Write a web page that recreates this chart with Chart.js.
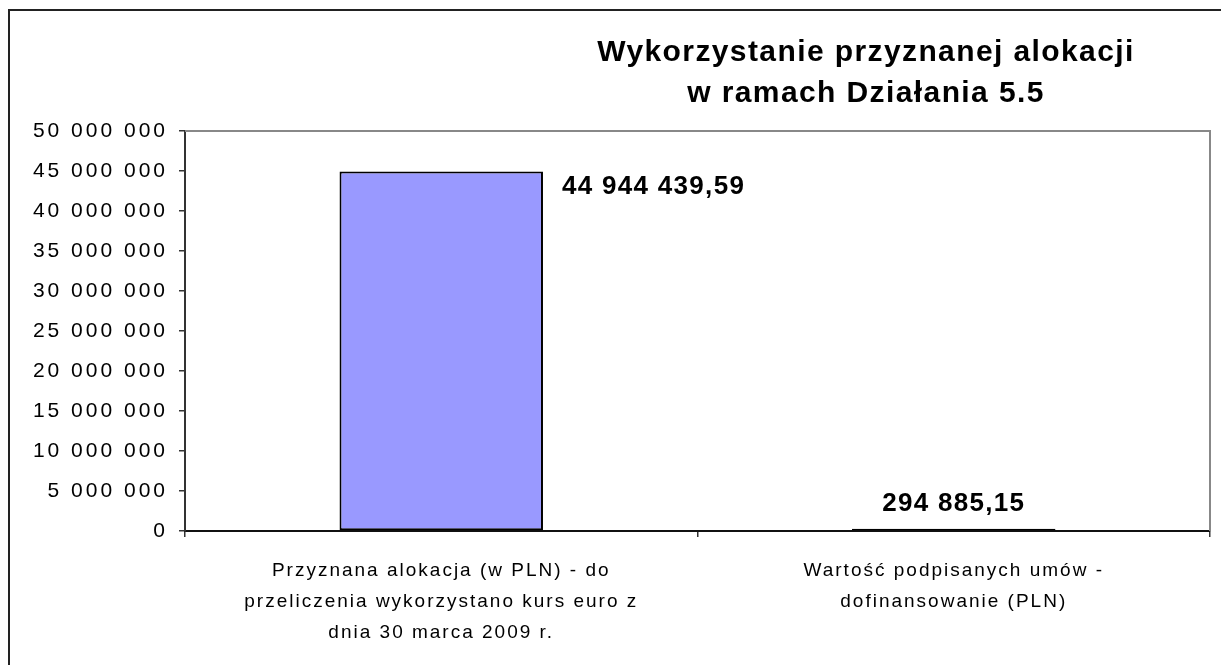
<!DOCTYPE html>
<html><head><meta charset="utf-8">
<script src="https://cdn.jsdelivr.net/npm/chart.js@4/dist/chart.umd.min.js"></script>
<style>html,body{margin:0;padding:0;background:#fff}canvas{display:block}</style>
</head><body>
<canvas id="c" width="1221" height="665"></canvas>
<script>
const categories = [
  ["Przyznana alokacja (w PLN) - do", "przeliczenia wykorzystano kurs euro z", "dnia 30 marca 2009 r."],
  ["Wartość podpisanych umów -", "dofinansowanie (PLN)"]
];
const values = [44944439.59, 294885.15];
const valueLabels = ["44 944 439,59", "294 885,15"];
const titleLines = ["Wykorzystanie przyznanej alokacji", "w ramach Działania 5.5"];
const yMin = 0, yMax = 50000000, yStep = 5000000;

const FONT = "'Liberation Sans', Arial, sans-serif";
Chart.defaults.font.family = FONT;
Chart.defaults.color = '#000';

function fmt(v){ return String(Math.round(v)).replace(/\B(?=(\d{3})+(?!\d))/g, ' '); }

const deco = {
  id: 'deco',
  afterLayout(chart){
    const y = chart.scales.y;
    if (!y._wrapped) {
      const orig = y.drawLabels;
      y.drawLabels = function(area){
        const ctx = this.ctx;
        const prev = ctx.letterSpacing;
        ctx.letterSpacing = '3px';
        orig.call(this, area);
        ctx.letterSpacing = prev;
      };
      y._wrapped = true;
    }
  },
  beforeDraw(chart){
    const ctx = chart.ctx;
    ctx.save();
    ctx.fillStyle = '#fff';
    ctx.fillRect(0,0,chart.width,chart.height);
    ctx.restore();
    ctx.letterSpacing = '2px';
  },
  afterDraw(chart){
    const ctx = chart.ctx;
    const a = chart.chartArea;
    ctx.save();
    ctx.letterSpacing = '0px';
    // plot top & right border
    ctx.strokeStyle = '#888';
    ctx.lineWidth = 2;
    ctx.beginPath();
    ctx.moveTo(a.left, a.top);
    ctx.lineTo(a.right, a.top);
    ctx.lineTo(a.right, a.bottom);
    ctx.stroke();
    // outer frame
    ctx.strokeStyle = '#222';
    ctx.lineWidth = 2;
    ctx.beginPath();
    ctx.moveTo(9, chart.height);
    ctx.lineTo(9, 10);
    ctx.lineTo(chart.width, 10);
    ctx.stroke();
    // title
    ctx.fillStyle = '#000';
    ctx.font = "bold 30px " + FONT;
    ctx.textAlign = 'center';
    ctx.textBaseline = 'middle';
    ctx.letterSpacing = '1.4px';
    ctx.fillText(titleLines[0], 866, 53);
    ctx.fillText(titleLines[1], 866, 94);
    // value labels
    const meta = chart.getDatasetMeta(0);
    ctx.font = "bold 26px " + FONT;
    ctx.letterSpacing = '1.3px';
    const b0 = meta.data[0];
    ctx.textAlign = 'left';
    ctx.fillText(valueLabels[0], b0.x + b0.width/2 + 19, b0.y + 15);
    const b1 = meta.data[1];
    ctx.textAlign = 'center';
    ctx.fillText(valueLabels[1], b1.x, b1.y - 25);
    ctx.restore();
  }
};

new Chart(document.getElementById('c'), {
  type: 'bar',
  data: {
    labels: categories,
    datasets: [{
      data: values,
      backgroundColor: '#9999FF',
      borderColor: '#000',
      borderWidth: 2,
      borderSkipped: false,
      categoryPercentage: 1,
      barPercentage: 0.397
    }]
  },
  options: {
    responsive: false,
    animation: false,
    devicePixelRatio: 1,
    layout: { padding: { top: 131, left: 0, right: 11, bottom: 0 } },
    plugins: { legend: { display: false }, tooltip: { enabled: false }, title: { display: false } },
    scales: {
      x: {
        afterFit(s){ s.height = 134; },
        offset: true,
        grid: { offset: true, drawOnChartArea: false, tickLength: 6, color: '#333', lineWidth: 1.5 },
        border: { color: '#111', width: 2 },
        ticks: { font: { size: 19, lineHeight: 1.63 }, color: '#000', padding: 18, maxRotation: 0, autoSkip: false }
      },
      y: {
        min: yMin, max: yMax,
        afterFit(s){ s.width = 185; },
        grid: { drawOnChartArea: false, tickLength: 6, color: '#333', lineWidth: 1.5 },
        border: { color: '#333', width: 2 },
        ticks: { stepSize: yStep, font: { size: 21 }, color: '#000', padding: 11, callback: v => fmt(v) }
      }
    }
  },
  plugins: [deco]
});
</script>
</body></html>
